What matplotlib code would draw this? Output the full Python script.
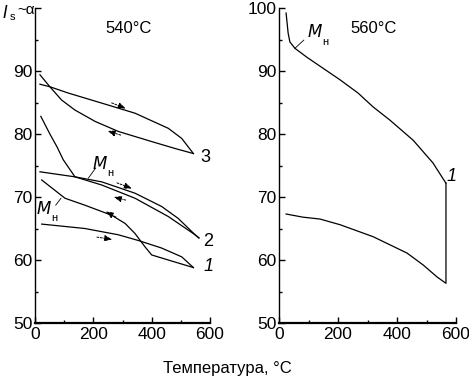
import matplotlib.pyplot as plt
from matplotlib.ticker import MultipleLocator

# 540 C panel, curves 1-3 (heating then cooling branch)
c3_heat_t = [17, 51, 114, 229, 343, 457, 503, 543]
c3_heat_v = [87.9, 87.5, 86.5, 84.9, 83.3, 80.9, 79.3, 76.9]
c3_cool_t = [543, 480, 400, 286, 206, 137, 91, 51, 17]
c3_cool_v = [76.9, 77.7, 78.8, 80.4, 82.0, 83.8, 85.4, 87.5, 89.4]

c2_heat_t = [17, 137, 229, 343, 434, 491, 549, 562]
c2_heat_v = [74.0, 73.2, 72.4, 70.6, 68.5, 66.6, 64.0, 63.5]
c2_cool_t = [562, 549, 457, 343, 229, 137, 97, 75, 51, 20]
c2_cool_v = [63.5, 64.0, 66.9, 69.8, 71.9, 73.2, 75.9, 78.0, 80.0, 82.8]

c1_heat_t = [23, 171, 286, 354, 434, 503, 543]
c1_heat_v = [65.7, 65.0, 64.0, 63.1, 61.9, 60.5, 58.8]
c1_cool_t = [543, 457, 400, 377, 343, 309, 263, 171, 103, 23]
c1_cool_v = [58.8, 60.0, 60.8, 62.1, 64.2, 65.8, 67.1, 68.7, 69.8, 72.7]

# 560 C panel, curve 1
r_heat_t = [24, 31, 37, 54, 94, 207, 268, 319, 376, 455, 522, 563, 566]
r_heat_v = [99.2, 96.0, 94.6, 93.6, 92.2, 88.6, 86.5, 84.3, 82.2, 79.0, 75.4, 72.4, 72.2]
r_cool_t = [566, 566, 536, 489, 434, 319, 207, 139, 81, 24]
r_cool_v = [72.2, 56.3, 57.3, 59.2, 61.1, 63.7, 65.6, 66.5, 66.8, 67.3]

fig = plt.figure(figsize=(4.69, 3.77), dpi=100)
plt.rcParams['font.family'] = ['Liberation Sans', 'DejaVu Sans']

ax1 = fig.add_axes([35 / 469, 54 / 377, 175 / 469, 315 / 377])
ax2 = fig.add_axes([279 / 469, 54 / 377, 177 / 469, 315 / 377])

lw = 0.9
for t, v in [(c3_heat_t, c3_heat_v), (c3_cool_t, c3_cool_v),
             (c2_heat_t, c2_heat_v), (c2_cool_t, c2_cool_v),
             (c1_heat_t, c1_heat_v), (c1_cool_t, c1_cool_v)]:
    ax1.plot(t, v, color="black", lw=lw)
ax2.plot(r_heat_t, r_heat_v, color="black", lw=lw)
ax2.plot(r_cool_t, r_cool_v, color="black", lw=lw)

for ax in (ax1, ax2):
    ax.set_xlim(0, 600)
    ax.set_ylim(50, 100)
    ax.spines["top"].set_visible(False)
    ax.spines["right"].set_visible(False)
    ax.spines["left"].set_linewidth(1.0)
    ax.spines["bottom"].set_linewidth(1.6)
    ax.xaxis.set_major_locator(MultipleLocator(200))
    ax.xaxis.set_minor_locator(MultipleLocator(100))
    ax.yaxis.set_major_locator(MultipleLocator(10))
    ax.yaxis.set_minor_locator(MultipleLocator(5))
    ax.tick_params(which="major", direction="in", length=4, width=1, labelsize=12.5)
    ax.tick_params(which="minor", direction="in", length=2.5, width=1)
    ax.tick_params(axis="x", pad=3)
    ax.tick_params(axis="y", pad=2)

ax1.set_yticks([50, 60, 70, 80, 90, 100])
ax1.set_yticklabels(["50", "60", "70", "80", "90", ""])

# arrows showing heating / cooling direction
arrows = [((254, 85.1), (320, 83.9)), ((303, 79.7), (240, 80.6)),
          ((272, 72.4), (341, 71.2)), ((320, 69.4), (261, 70.1)),
          ((286, 66.6), (234, 67.9)), ((203, 63.7), (274, 63.2))]
for start, end in arrows:
    ax1.annotate("", xy=end, xytext=start,
                 arrowprops=dict(arrowstyle="-|>,head_length=0.45,head_width=0.18",
                                 color="black", lw=0.7, ls=(0, (2, 1.5))))

ax1.text(320, 96.8, "540°C", ha="center", va="center", fontsize=12)
ax2.text(319, 96.8, "560°C", ha="center", va="center", fontsize=12)

ax1.text(566, 76.3, "3", ha="left", va="center", fontsize=13)
ax1.text(578, 63.0, "2", ha="left", va="center", fontsize=13)
ax1.text(578, 58.9, "1", ha="left", va="center", fontsize=13, style="italic")
ax2.text(586, 73.2, "1", ha="center", va="center", fontsize=13, style="italic")

# M_n labels with leader lines
ax1.text(196, 75.3, "$M$", ha="left", va="center", fontsize=12)
ax1.text(246, 73.8, "н", ha="left", va="center", fontsize=8)
ax1.plot([183, 208], [73.0, 74.6], color="black", lw=0.6)
ax1.text(5, 68.1, "$M$", ha="left", va="center", fontsize=12)
ax1.text(55, 66.6, "н", ha="left", va="center", fontsize=8)
ax1.plot([71, 89], [68.7, 69.8], color="black", lw=0.6)
ax2.text(95, 96.3, "$M$", ha="left", va="center", fontsize=12)
ax2.text(146, 94.6, "н", ha="left", va="center", fontsize=8)
ax2.plot([54, 84], [93.6, 94.9], color="black", lw=0.6)

fig.text(2 / 469, 1 - 12 / 377, "$I$", ha="left", va="center", fontsize=12)
fig.text(10 / 469, 1 - 17 / 377, "s", ha="left", va="center", fontsize=8)
fig.text(17 / 469, 1 - 10 / 377, "~α", ha="left", va="center", fontsize=11)

fig.text(227 / 469, 1 - 369 / 377, "Температура, °C", ha="center", va="center", fontsize=12)

fig.savefig("out.png", dpi=100)
